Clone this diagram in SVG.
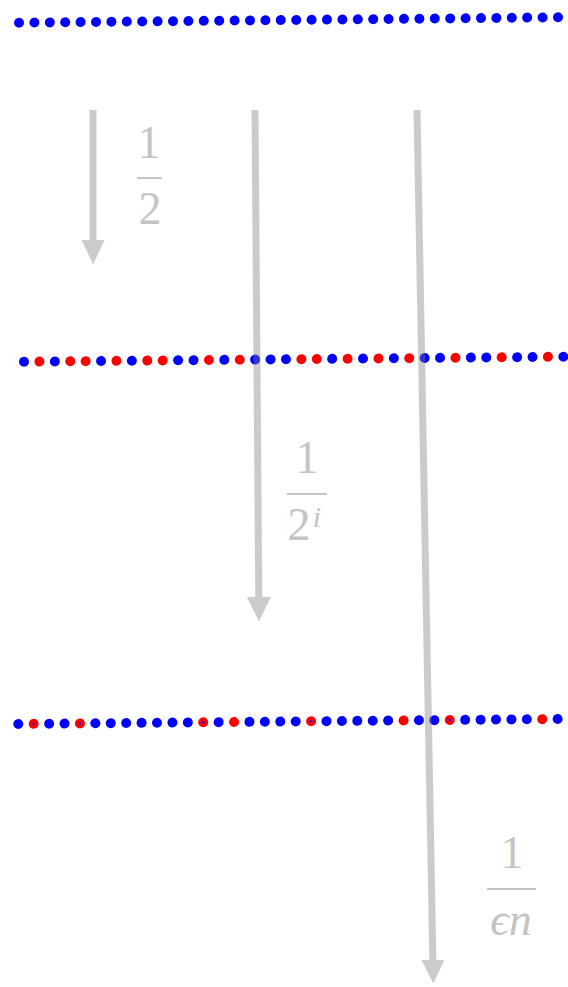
<svg xmlns="http://www.w3.org/2000/svg" width="568" height="987" viewBox="0 0 568 987">
<style>
.b{fill:#0000ff}.r{fill:#ff0000}.c{fill:#0000ff}
.lbl{font-family:"Liberation Serif","DejaVu Serif",serif;fill:#c4c4c4;text-anchor:middle}
.it{font-style:italic}
.bar{stroke:#c4c4c4;stroke-width:2}
</style>
<rect width="568" height="987" fill="#ffffff"/>
<g id="row1" transform="translate(19,22.7) rotate(-0.574)">
<circle class="b" cx="0" cy="0" r="5"/><circle class="b" cx="15.4" cy="0" r="5"/><circle class="b" cx="30.8" cy="0" r="5"/><circle class="b" cx="46.2" cy="0" r="5"/><circle class="b" cx="61.6" cy="0" r="5"/><circle class="b" cx="77" cy="0" r="5"/><circle class="b" cx="92.4" cy="0" r="5"/><circle class="b" cx="107.8" cy="0" r="5"/><circle class="b" cx="123.2" cy="0" r="5"/><circle class="b" cx="138.6" cy="0" r="5"/><circle class="b" cx="154" cy="0" r="5"/><circle class="b" cx="169.4" cy="0" r="5"/><circle class="b" cx="184.8" cy="0" r="5"/><circle class="b" cx="200.2" cy="0" r="5"/><circle class="b" cx="215.6" cy="0" r="5"/><circle class="b" cx="231" cy="0" r="5"/><circle class="b" cx="246.4" cy="0" r="5"/><circle class="b" cx="261.8" cy="0" r="5"/><circle class="b" cx="277.2" cy="0" r="5"/><circle class="b" cx="292.6" cy="0" r="5"/><circle class="b" cx="308" cy="0" r="5"/><circle class="b" cx="323.4" cy="0" r="5"/><circle class="b" cx="338.8" cy="0" r="5"/><circle class="b" cx="354.2" cy="0" r="5"/><circle class="b" cx="369.6" cy="0" r="5"/><circle class="b" cx="385" cy="0" r="5"/><circle class="b" cx="400.4" cy="0" r="5"/><circle class="b" cx="415.8" cy="0" r="5"/><circle class="b" cx="431.2" cy="0" r="5"/><circle class="b" cx="446.6" cy="0" r="5"/><circle class="b" cx="462" cy="0" r="5"/><circle class="b" cx="477.4" cy="0" r="5"/><circle class="b" cx="492.8" cy="0" r="5"/><circle class="b" cx="508.2" cy="0" r="5"/><circle class="b" cx="523.6" cy="0" r="5"/><circle class="b" cx="539" cy="0" r="5"/>
</g>
<g id="row2" transform="translate(24,361.7) rotate(-0.531)">
<circle class="b" cx="0" cy="0" r="5"/><circle class="r" cx="15.41" cy="0" r="5"/><circle class="b" cx="30.82" cy="0" r="5"/><circle class="r" cx="46.23" cy="0" r="5"/><circle class="r" cx="61.64" cy="0" r="5"/><circle class="b" cx="77.05" cy="0" r="5"/><circle class="r" cx="92.46" cy="0" r="5"/><circle class="b" cx="107.87" cy="0" r="5"/><circle class="r" cx="123.28" cy="0" r="5"/><circle class="r" cx="138.69" cy="0" r="5"/><circle class="b" cx="154.1" cy="0" r="5"/><circle class="b" cx="169.51" cy="0" r="5"/><circle class="r" cx="184.92" cy="0" r="5"/><circle class="b" cx="200.33" cy="0" r="5"/><circle class="r" cx="215.74" cy="0" r="5"/><circle class="b" cx="231.15" cy="0" r="5"/><circle class="b" cx="246.56" cy="0" r="5"/><circle class="b" cx="261.97" cy="0" r="5"/><circle class="r" cx="277.38" cy="0" r="5"/><circle class="r" cx="292.79" cy="0" r="5"/><circle class="b" cx="308.2" cy="0" r="5"/><circle class="r" cx="323.61" cy="0" r="5"/><circle class="b" cx="339.02" cy="0" r="5"/><circle class="r" cx="354.43" cy="0" r="5"/><circle class="b" cx="369.84" cy="0" r="5"/><circle class="r" cx="385.25" cy="0" r="5"/><circle class="b" cx="400.66" cy="0" r="5"/><circle class="b" cx="416.07" cy="0" r="5"/><circle class="r" cx="431.48" cy="0" r="5"/><circle class="b" cx="446.89" cy="0" r="5"/><circle class="b" cx="462.3" cy="0" r="5"/><circle class="r" cx="477.71" cy="0" r="5"/><circle class="b" cx="493.12" cy="0" r="5"/><circle class="b" cx="508.53" cy="0" r="5"/><circle class="r" cx="523.94" cy="0" r="5"/><circle class="b" cx="539.35" cy="0" r="5"/>
</g>
<g id="row3" transform="translate(18.3,724) rotate(-0.531)">
<circle class="b" cx="0" cy="0" r="5"/><circle class="r" cx="15.41" cy="0" r="5"/><circle class="c" cx="15.41" cy="0" r="1.2"/><circle class="b" cx="30.82" cy="0" r="5"/><circle class="b" cx="46.23" cy="0" r="5"/><circle class="r" cx="61.64" cy="0" r="5"/><circle class="c" cx="61.64" cy="0" r="1.2"/><circle class="b" cx="77.05" cy="0" r="5"/><circle class="b" cx="92.46" cy="0" r="5"/><circle class="b" cx="107.87" cy="0" r="5"/><circle class="b" cx="123.28" cy="0" r="5"/><circle class="b" cx="138.69" cy="0" r="5"/><circle class="b" cx="154.1" cy="0" r="5"/><circle class="b" cx="169.51" cy="0" r="5"/><circle class="r" cx="184.92" cy="0" r="5"/><circle class="c" cx="184.92" cy="0" r="1.2"/><circle class="b" cx="200.33" cy="0" r="5"/><circle class="r" cx="215.74" cy="0" r="5"/><circle class="b" cx="231.15" cy="0" r="5"/><circle class="b" cx="246.56" cy="0" r="5"/><circle class="b" cx="261.97" cy="0" r="5"/><circle class="b" cx="277.38" cy="0" r="5"/><circle class="r" cx="292.79" cy="0" r="5"/><circle class="c" cx="292.79" cy="0" r="1.2"/><circle class="b" cx="308.2" cy="0" r="5"/><circle class="b" cx="323.61" cy="0" r="5"/><circle class="b" cx="339.02" cy="0" r="5"/><circle class="b" cx="354.43" cy="0" r="5"/><circle class="b" cx="369.84" cy="0" r="5"/><circle class="r" cx="385.25" cy="0" r="5"/><circle class="b" cx="400.66" cy="0" r="5"/><circle class="b" cx="416.07" cy="0" r="5"/><circle class="r" cx="431.48" cy="0" r="5"/><circle class="c" cx="431.48" cy="0" r="1.2"/><circle class="b" cx="446.89" cy="0" r="5"/><circle class="b" cx="462.3" cy="0" r="5"/><circle class="b" cx="477.71" cy="0" r="5"/><circle class="b" cx="493.12" cy="0" r="5"/><circle class="b" cx="508.53" cy="0" r="5"/><circle class="r" cx="523.94" cy="0" r="5"/><circle class="b" cx="539.35" cy="0" r="5"/>
</g>
<g id="connectors" opacity="0.4">
<g id="arrow1"><line x1="93" y1="110" x2="93" y2="242" stroke="#808080" stroke-width="7"/><polygon points="81.5,240 104.5,240 93.2,264.5" fill="#808080"/></g>
<g id="arrow2"><line x1="255" y1="110" x2="258.8" y2="599" stroke="#808080" stroke-width="7"/><polygon points="246.8,597 270.8,597 259,621.5" fill="#808080"/></g>
<g id="arrow3"><line x1="417" y1="110" x2="432.9" y2="962" stroke="#808080" stroke-width="7"/><polygon points="421.4,960 444.4,960 433.3,983.5" fill="#808080"/></g>
</g>
<g id="label1">
<text class="lbl" x="149" y="158" font-size="46">1</text>
<line class="bar" x1="137" y1="178" x2="162" y2="178"/>
<text class="lbl" x="150" y="224" font-size="46">2</text>
</g>
<g id="label2">
<text class="lbl" x="307" y="473" font-size="46">1</text>
<line class="bar" x1="287" y1="494" x2="327" y2="494"/>
<text class="lbl" x="299" y="540" font-size="46">2</text>
<text class="lbl it" x="317" y="527" font-size="30">i</text>
</g>
<g id="label3">
<text class="lbl" x="512" y="868" font-size="46">1</text>
<line class="bar" x1="487" y1="889" x2="536" y2="889"/>
<text class="lbl it" x="511" y="935" font-size="46">ϵn</text>
</g>
</svg>
